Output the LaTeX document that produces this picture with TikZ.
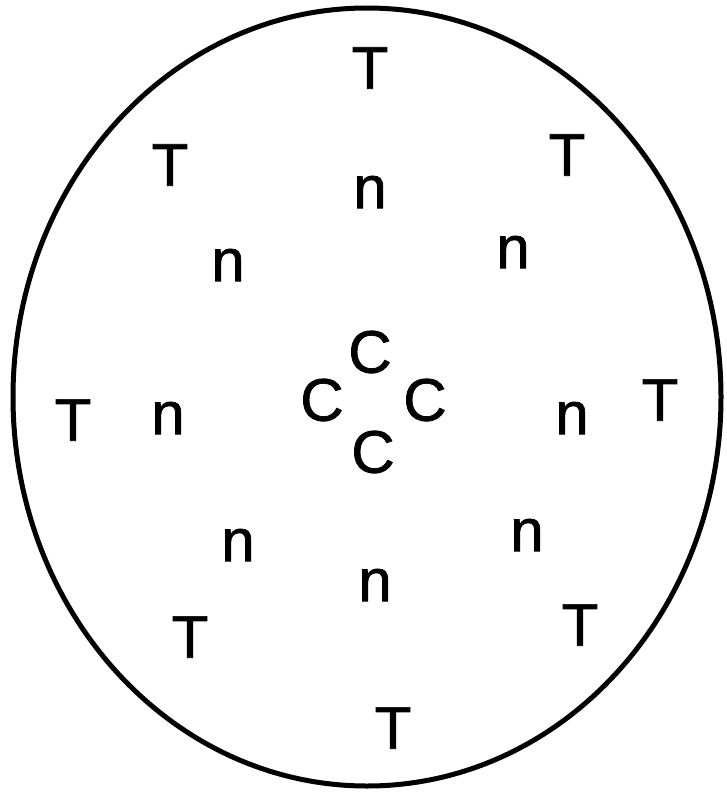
\documentclass[tikz,border=0pt]{standalone}
\usepackage{fontspec}
\setmainfont{Liberation Sans}
\newfontfamily\lblfont[FakeBold=1.2]{Liberation Sans}
\begin{document}
\begin{tikzpicture}[x=1pt,y=-1pt,
  lbl/.style={inner sep=0pt,font=\lblfont\fontsize{60}{60}\selectfont}]
\useasboundingbox (0,0) rectangle (726,792);
\draw[line width=5pt] (367,397) ellipse [x radius=354, y radius=389];
\node[lbl] (t1) at (370,68) {T};
\node[lbl] (t2) at (170,165) {T};
\node[lbl] (t3) at (567,155) {T};
\node[lbl] (n1) at (370,192) {n};
\node[lbl] (n2) at (228,265) {n};
\node[lbl] (n3) at (513,252) {n};
\node[lbl] (c1) at (370,352) {C};
\node[lbl] (c2) at (322,400) {C};
\node[lbl] (c3) at (425,400) {C};
\node[lbl] (c4) at (373,452) {C};
\node[lbl] (t4) at (73,420) {T};
\node[lbl] (n4) at (168,418) {n};
\node[lbl] (n5) at (572,418) {n};
\node[lbl] (t5) at (660,400) {T};
\node[lbl] (n6) at (238,545) {n};
\node[lbl] (n7) at (527,535) {n};
\node[lbl] (t6) at (190,637) {T};
\node[lbl] (n8) at (375,585) {n};
\node[lbl] (t7) at (580,625) {T};
\node[lbl] (t8) at (393,728) {T};
\end{tikzpicture}
\end{document}
